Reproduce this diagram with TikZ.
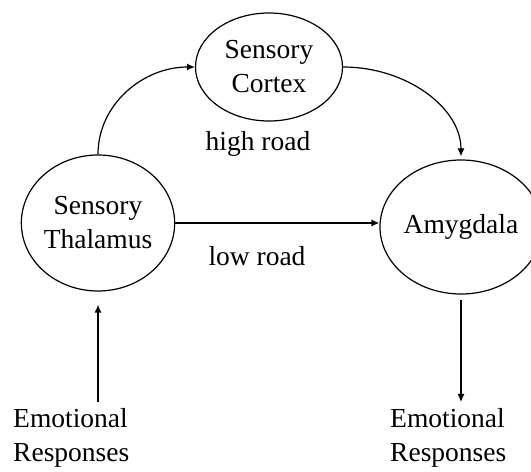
\documentclass[tikz,border=0pt]{standalone}
\usepackage{fontspec}
\setmainfont{Liberation Serif}
\usepackage{tikz}
\usetikzlibrary{arrows.meta}
\usetikzlibrary{shapes.geometric}
\usetikzlibrary{positioning,calc}

\begin{document}
\begin{tikzpicture}[
    x=1pt, y=1pt,
    % 脑区节点样式
    region style/.style={
        ellipse,             % 椭圆节点
        draw,                % 绘制边框
        line width=1.2pt,    % 边框线宽
        align=center,        % 文字居中
        inner sep=0pt        % 内部填充为0
    },
    % 文字样式
    label style/.style={
        font=\fontsize{27.5}{34}\selectfont,
        inner sep=0pt
    },
    % 箭头样式
    arrow style/.style={
        draw,
        line width=1.2pt,
        -{Latex[length=8pt, width=7pt]}
    }
]

% 画布范围
\clip (0,0) rectangle (531,472);

% 定义节点
\node[region style, label style, minimum width=147pt, minimum height=108pt] (cortex) at (269,405) {Sensory\\Cortex};
\node[region style, label style, minimum width=147pt, minimum height=136pt] (thalamus) at (98,249) {Sensory\\Thalamus};
\node[region style, label style, minimum width=140pt, minimum height=134pt] (amygdala) at (461,245) {Amygdala};
\node[label style] (highlbl) at (258,328) {high road};
\node[label style] (lowlbl) at (257,216) {low road};
\node[label style, align=left, anchor=north west] (inresp) at (13,64) {Emotional\\Responses};
\node[label style, align=left, anchor=north west] (outresp) at (390,64) {Emotional\\Responses};

% 连线
\draw[arrow style] (thalamus.north) .. controls +(0,50) and +(-52,0) .. (cortex.west);
\draw[arrow style] (cortex.east) .. controls +(63,0) and +(0,49) .. ($(amygdala.north)+(0,3)$);
\draw[arrow style] (thalamus.east) -- (thalamus.east -| amygdala.west);
\draw[arrow style, shorten <=6pt, shorten >=13pt] (thalamus.south |- inresp.north) -- (thalamus.south);
\draw[arrow style, shorten <=5pt, shorten >=6pt] (amygdala.south) -- (amygdala.south |- outresp.north);

\end{tikzpicture}
\end{document}
